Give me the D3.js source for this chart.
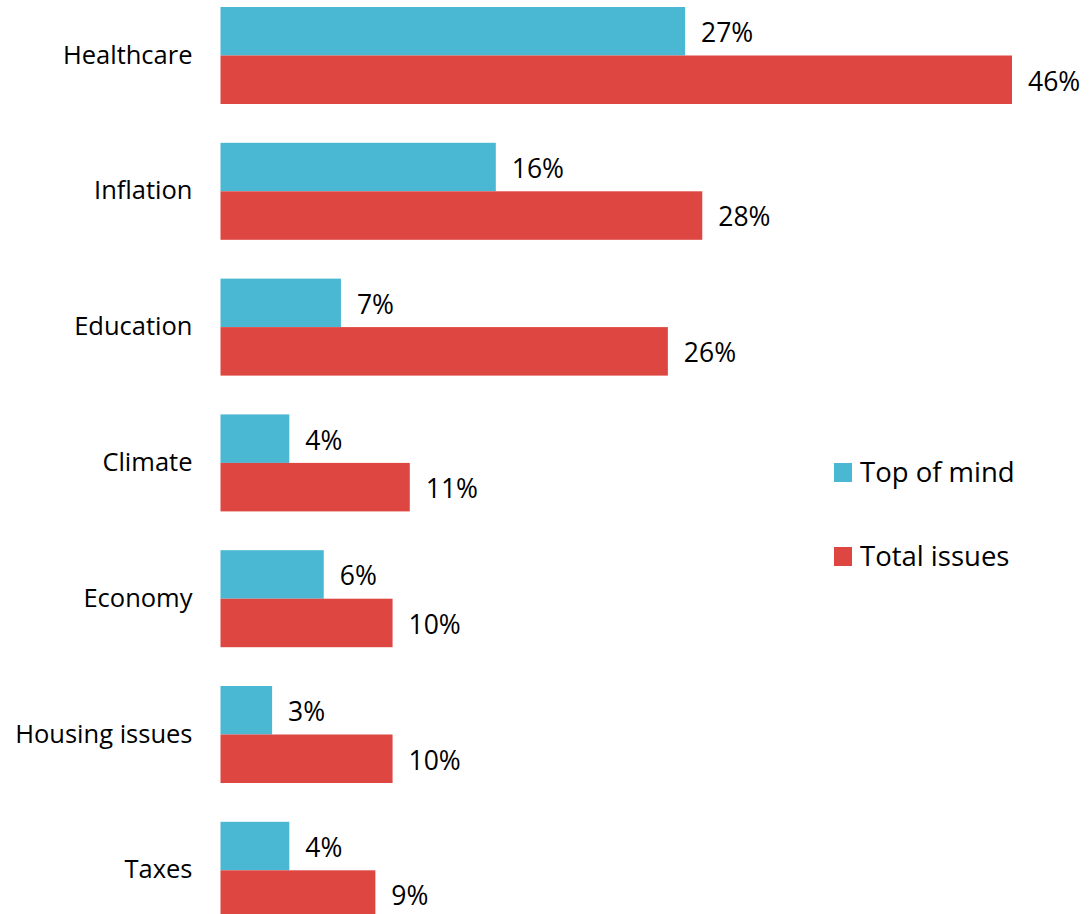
<!DOCTYPE html>
<html>
<head>
<meta charset="utf-8">
<script src="https://cdn.jsdelivr.net/npm/d3@7"></script>
<style>
  html, body { margin: 0; padding: 0; background: #fff; }
  svg text { font-family: "Open Sans", sans-serif; fill: #000; }
</style>
</head>
<body>
<svg id="chart" width="1089" height="914"></svg>
<script>
const categories = ["Healthcare", "Inflation", "Education", "Climate", "Economy", "Housing issues", "Taxes"];
const topOfMind = [27, 16, 7, 4, 6, 3, 4];
const totalIssues = [46, 28, 26, 11, 10, 10, 9];
const seriesNames = ["Top of mind", "Total issues"];
const seriesColors = ["#4BB8D3", "#DE4642"];

const svg = d3.select("#chart");
const catFont = 25.5, valFont = 26.5, legFont = 27.5;

const x = d3.scaleLinear().domain([0, 46]).range([220.5, 1012]);
const step = 135.8, pIn = 0.2857;
const y0 = 7 - step * pIn / 2;
const y = d3.scaleBand().domain(categories).range([y0, y0 + step * categories.length])
  .paddingInner(pIn).paddingOuter(pIn / 2);
const ySub = d3.scaleBand().domain([0, 1]).range([0, y.bandwidth()]);

const data = categories.map((c, i) => ({ cat: c, vals: [topOfMind[i], totalIssues[i]] }));

const groups = svg.selectAll("g.cat").data(data).join("g")
  .attr("class", "cat")
  .attr("transform", d => `translate(0,${y(d.cat)})`);

groups.selectAll("rect").data(d => d.vals.map((v, k) => ({ v, k }))).join("rect")
  .attr("x", x(0))
  .attr("y", d => ySub(d.k))
  .attr("width", d => x(d.v) - x(0))
  .attr("height", ySub.bandwidth())
  .attr("fill", d => seriesColors[d.k]);

groups.selectAll("text.val").data(d => d.vals.map((v, k) => ({ v, k }))).join("text")
  .attr("class", "val")
  .attr("x", d => x(d.v) + 16)
  .attr("y", d => ySub(d.k) + ySub.bandwidth() / 2)
  .attr("dy", "0.41em")
  .attr("font-size", valFont)
  .text(d => d.v + "%");

// category axis labels
const yAxis = d3.axisLeft(y).tickSize(0).tickPadding(28);
const ax = svg.append("g").attr("transform", `translate(${x(0)},0)`).call(yAxis);
ax.select(".domain").remove();
ax.selectAll("text")
  .attr("font-size", catFont)
  .attr("font-family", "Open Sans, sans-serif")
  .attr("fill", "#000")
  .attr("dy", "0.32em");

// legend
const legend = svg.append("g").attr("transform", "translate(834,0)");
const legY = [472.5, 556.5];
seriesNames.forEach((n, k) => {
  legend.append("rect").attr("x", 0).attr("y", legY[k] - 9.5).attr("width", 18).attr("height", 19)
    .attr("fill", seriesColors[k]);
  legend.append("text").attr("x", 26).attr("y", legY[k] + 9.3)
    .attr("font-size", legFont).text(n);
});
</script>
</body>
</html>
